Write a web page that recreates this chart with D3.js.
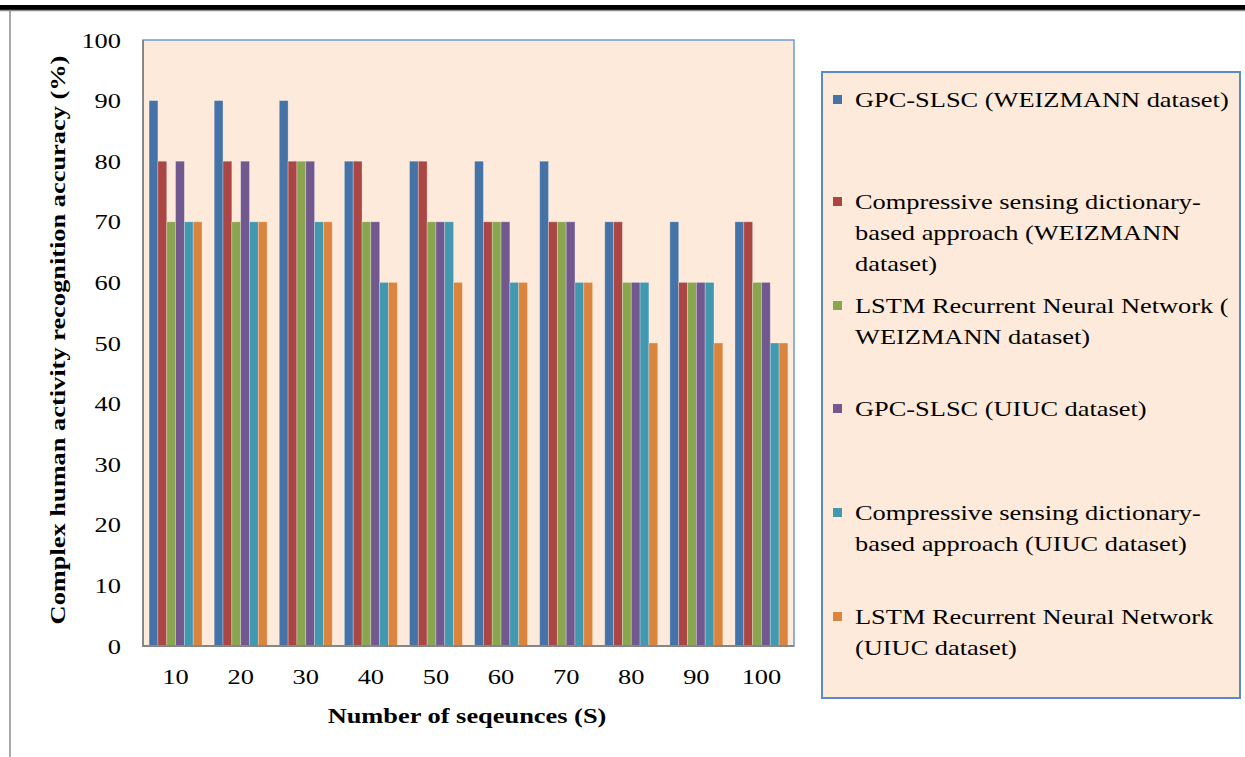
<!DOCTYPE html>
<head>
  <meta charset="utf-8">
  <script src="https://d3js.org/d3.v7.min.js"></script>
  <style>
    body { margin: 0; background: #fff; }
    text { font-family: "Liberation Serif", serif; fill: #000; }
  </style>
</head>
<body>
  <svg width="1245" height="757"></svg>
  <script>
    const categories = ["10", "20", "30", "40", "50", "60", "70", "80", "90", "100"];
    const seriesNames = [
      "GPC-SLSC (WEIZMANN dataset)",
      "Compressive sensing dictionary-based approach (WEIZMANN dataset)",
      "LSTM Recurrent Neural Network ( WEIZMANN dataset)",
      "GPC-SLSC (UIUC dataset)",
      "Compressive sensing dictionary-based approach (UIUC dataset)",
      "LSTM Recurrent Neural Network (UIUC dataset)"
    ];
    // legend text as it wraps in the picture
    const legendLines = [
      ["GPC-SLSC (WEIZMANN dataset)"],
      ["Compressive sensing dictionary-", "based approach (WEIZMANN", "dataset)"],
      ["LSTM Recurrent Neural Network (", "WEIZMANN dataset)"],
      ["GPC-SLSC (UIUC dataset)"],
      ["Compressive sensing dictionary-", "based approach (UIUC dataset)"],
      ["LSTM Recurrent Neural Network", "(UIUC dataset)"]
    ];
    const gpcWeiz  = [90, 90, 90, 80, 80, 80, 80, 70, 70, 70];
    const csdWeiz  = [80, 80, 80, 80, 80, 70, 70, 70, 60, 70];
    const lstmWeiz = [70, 70, 80, 70, 70, 70, 70, 60, 60, 60];
    const gpcUiuc  = [80, 80, 80, 70, 70, 70, 70, 60, 60, 60];
    const csdUiuc  = [70, 70, 70, 60, 70, 60, 60, 60, 60, 50];
    const lstmUiuc = [70, 70, 70, 60, 60, 60, 60, 50, 50, 50];
    const yTicks = [0, 10, 20, 30, 40, 50, 60, 70, 80, 90, 100];
    const colors = ["#4572A7", "#AA4643", "#89A54E", "#71588F", "#4198AF", "#DB843D"];

    const seriesValues = [gpcWeiz, csdWeiz, lstmWeiz, gpcUiuc, csdUiuc, lstmUiuc];
    const rows = categories.map((c, i) => ({
      cat: c,
      vals: seriesValues.map((s, j) => ({ k: j, v: s[i] }))
    }));

    const svg = d3.select("svg");
    const plot = { left: 143, right: 794, top: 40, bottom: 646 };
    const sx = 1.2; // the picture's text is stretched sideways

    // top rule and outer frame
    svg.append("rect").attr("x", 0).attr("y", 5).attr("width", 1245).attr("height", 5).attr("fill", "#000");
    svg.append("line").attr("x1", 0).attr("x2", 1245).attr("y1", 10.5).attr("y2", 10.5)
      .attr("stroke", "#8c8c8c").attr("stroke-width", 1.5);
    svg.append("line").attr("x1", 10).attr("x2", 10).attr("y1", 10).attr("y2", 757)
      .attr("stroke", "#8c8c8c").attr("stroke-width", 1.5);

    const x0 = d3.scaleBand().domain(categories).range([plot.left, plot.right]);
    const x1 = d3.scaleBand().domain(d3.range(6)).range([0, x0.bandwidth()]).paddingOuter(0.69);
    const y = d3.scaleLinear().domain([0, 100]).range([plot.bottom, plot.top]);

    svg.append("rect")
      .attr("x", plot.left).attr("y", plot.top)
      .attr("width", plot.right - plot.left).attr("height", plot.bottom - plot.top)
      .attr("fill", "#FDEADA").attr("stroke", "#6F9BD1").attr("stroke-width", 1.5);

    svg.append("g").selectAll("g").data(rows).join("g")
      .attr("transform", d => `translate(${x0(d.cat)},0)`)
      .selectAll("rect").data(d => d.vals).join("rect")
      .attr("x", d => x1(d.k))
      .attr("y", d => y(d.v))
      .attr("width", x1.bandwidth())
      .attr("height", d => y(0) - y(d.v))
      .attr("fill", d => colors[d.k])
      .attr("stroke", "rgba(255,255,255,0.35)")
      .attr("stroke-width", 0.8);

    // axes lines
    svg.append("line").attr("x1", plot.left).attr("x2", plot.left)
      .attr("y1", plot.top).attr("y2", plot.bottom + 1)
      .attr("stroke", "#868686").attr("stroke-width", 2);
    svg.append("line").attr("x1", plot.left - 1).attr("x2", plot.right)
      .attr("y1", plot.bottom).attr("y2", plot.bottom)
      .attr("stroke", "#868686").attr("stroke-width", 2);

    const yAxis = d3.axisLeft(y).tickValues(yTicks).tickSize(0).tickPadding(22);
    const gy = svg.append("g").attr("transform", `translate(${plot.left},0)`).call(yAxis);
    gy.select(".domain").remove();
    gy.selectAll("text")
      .style("font-family", "Liberation Serif").style("font-size", "22px").attr("fill", "#000")
      .each(function () {
        const t = d3.select(this), tx = +t.attr("x");
        t.attr("x", 0).attr("transform", `translate(${tx},0) scale(${sx},1)`);
      });

    const xAxis = d3.axisBottom(x0).tickSize(0).tickPadding(22);
    const gx = svg.append("g").attr("transform", `translate(0,${plot.bottom})`).call(xAxis);
    gx.select(".domain").remove();
    gx.selectAll("text")
      .style("font-family", "Liberation Serif").style("font-size", "22px").attr("fill", "#000")
      .attr("transform", `scale(${sx},1)`);

    svg.append("text")
      .attr("transform", `translate(467,723) scale(${sx},1)`)
      .attr("text-anchor", "middle")
      .style("font-size", "22px").style("font-weight", "bold")
      .text("Number of seqeunces (S)");

    svg.append("text")
      .attr("transform", `translate(65,340) rotate(-90) scale(${sx},1)`)
      .attr("text-anchor", "middle")
      .style("font-size", "22px").style("font-weight", "bold")
      .text("Complex human activity recognition accuracy (%)");

    // legend
    const legend = svg.append("g");
    legend.append("rect")
      .attr("x", 822).attr("y", 72).attr("width", 418).attr("height", 626)
      .attr("fill", "#FDEADA").attr("stroke", "#5B8ACB").attr("stroke-width", 2);
    const entryY = [100, 202, 306, 409, 513, 617];
    legendLines.forEach((lines, i) => {
      const g = legend.append("g");
      g.append("rect")
        .attr("x", 833).attr("y", entryY[i] - 5)
        .attr("width", 9).attr("height", 9)
        .attr("fill", colors[i]);
      lines.forEach((t, j) => {
        g.append("text")
          .attr("transform", `translate(855,${entryY[i] + j * 31 + 7}) scale(${sx},1)`)
          .style("font-size", "22px")
          .text(t);
      });
    });
  </script>
</body>
